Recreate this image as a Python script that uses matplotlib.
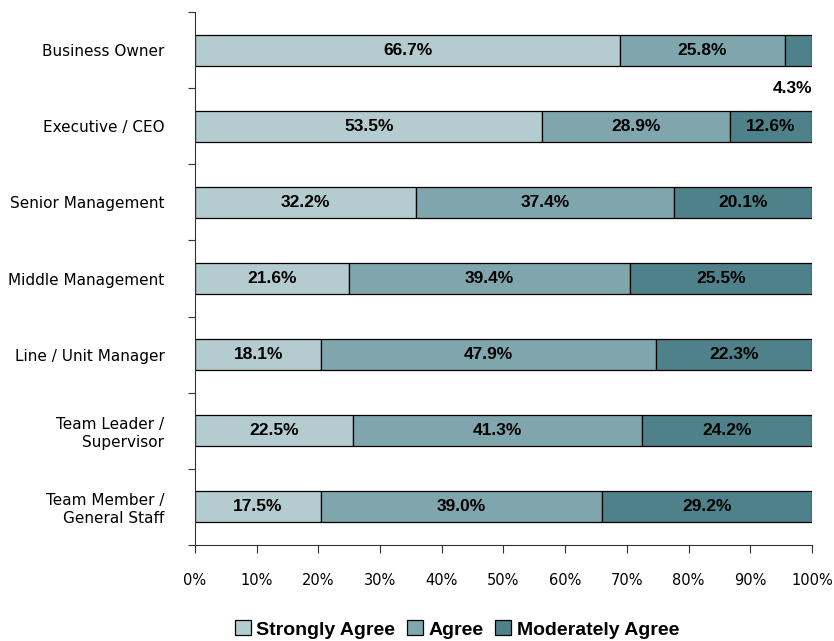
import matplotlib
matplotlib.use("Agg")
import matplotlib.pyplot as plt
import numpy as np
from matplotlib.patches import Patch

# survey data (raw percentages, bars are scaled to 100%)
roles = [
    "Business Owner",
    "Executive / CEO",
    "Senior Management",
    "Middle Management",
    "Line / Unit Manager",
    "Team Leader /\nSupervisor",
    "Team Member /\nGeneral Staff",
]
strongly_agree = [66.7, 53.5, 32.2, 21.6, 18.1, 22.5, 17.5]
agree = [25.8, 28.9, 37.4, 39.4, 47.9, 41.3, 39.0]
moderately_agree = [4.3, 12.6, 20.1, 25.5, 22.3, 24.2, 29.2]
series_names = ["Strongly Agree", "Agree", "Moderately Agree"]
colors = ["#b4cccf", "#7fa6ac", "#4e8189"]

bold_font = ["Liberation Sans", "DejaVu Sans"]

raw = np.array([strongly_agree, agree, moderately_agree])
totals = raw.sum(axis=0)
shares = raw / totals * 100

fig = plt.figure(figsize=(8.34, 6.41), dpi=100)
ax = fig.add_axes([0.2338, 0.150, 0.7398, 0.831])

y = np.arange(len(roles))
left = np.zeros(len(roles))
for k in range(3):
    ax.barh(y, shares[k], left=left, height=0.41, color=colors[k],
            edgecolor="black", linewidth=0.9, zorder=2)
    for i in range(len(roles)):
        txt = f"{raw[k, i]:.1f}%"
        if shares[k, i] < 8:
            # too thin to hold the label, put it under the bar
            ax.text(100, y[i] + 0.5, txt, ha="right", va="center",
                    fontsize=12.5, fontweight="bold", family=bold_font)
        else:
            ax.text(left[i] + shares[k, i] / 2, y[i], txt, ha="center",
                    va="center", fontsize=12.5, fontweight="bold", family=bold_font)
    left += shares[k]

ax.set_xlim(0, 100)
ax.set_ylim(len(roles) - 0.5, -0.5)
ax.set_xticks(np.arange(0, 101, 10))
ax.set_xticklabels([f"{v}%" for v in range(0, 101, 10)], fontsize=10.5)
ax.tick_params(axis="x", length=6, pad=14, width=0.8, color="#333333")

ax.set_yticks(np.arange(len(roles) + 1) - 0.5)
ax.set_yticklabels([])
ax.tick_params(axis="y", which="major", length=5, width=0.8, color="#333333")
ax.set_yticks(y, minor=True)
ax.set_yticklabels(roles, minor=True, fontsize=11)
ax.tick_params(axis="y", which="minor", length=0, pad=22)

for s in ["top", "right"]:
    ax.spines[s].set_visible(False)
ax.spines["left"].set_color("#333333")
ax.spines["bottom"].set_color("#333333")

handles = [Patch(facecolor=c, edgecolor="black", linewidth=0.9) for c in colors]
fig.legend(handles, series_names, loc="center", bbox_to_anchor=(0.548, 0.018),
           ncol=3, frameon=False, handlelength=0.8, handleheight=0.8,
           handletextpad=0.3, columnspacing=0.6,
           prop={"family": bold_font, "weight": "bold", "size": 14})

fig.savefig("out.png", dpi=100)
